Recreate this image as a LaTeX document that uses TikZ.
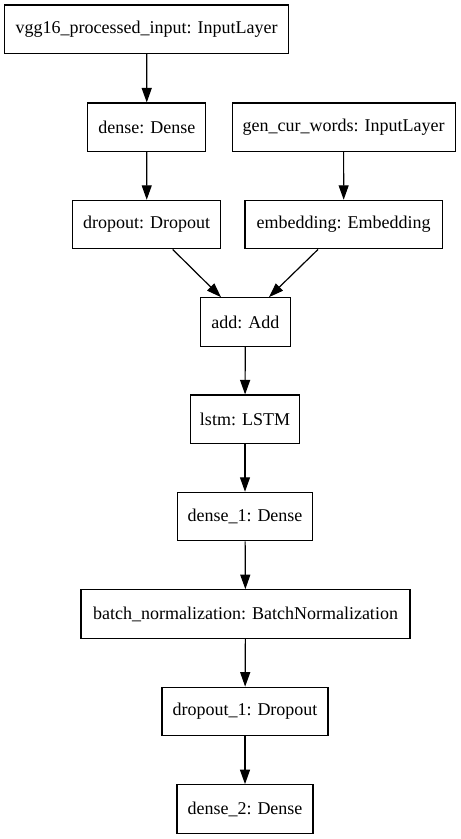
\documentclass[tikz,border=0pt]{standalone}
\usepackage{fontspec}
\setmainfont{Liberation Serif}
\usetikzlibrary{arrows.meta}
\begin{document}
\begin{tikzpicture}[x=1pt,y=-1pt,
  layer/.style={draw=black, line width=1.2pt, rectangle, minimum height=48.5pt, inner sep=0pt, font=\fontsize{18}{20}\selectfont},
  conn/.style={line width=1.2pt, -{Triangle[length=14.5pt,width=10pt]}}]
\useasboundingbox (0,0) rectangle (461,839);
\node[layer, minimum width=283.6pt] (vgg) at (146.6,29.2) {vgg16\_processed\_input: InputLayer};
\node[layer, minimum width=118pt] (dense) at (146.8,127.3) {dense: Dense};
\node[layer, minimum width=223pt] (gen) at (343.6,127.3) {gen\_cur\_words: InputLayer};
\node[layer, minimum width=148pt] (drop) at (146.7,224.6) {dropout: Dropout};
\node[layer, minimum width=197.3pt] (emb) at (343.7,224.6) {embedding: Embedding};
\node[layer, minimum width=89.6pt] (add) at (245.3,322) {add: Add};
\node[layer, minimum width=109.4pt] (lstm) at (245,419.3) {lstm: LSTM};
\node[layer, minimum width=135.4pt] (d1) at (245,516.6) {dense\_1: Dense};
\node[layer, minimum width=329pt] (bn) at (245.5,614) {batch\_normalization: BatchNormalization};
\node[layer, minimum width=166pt] (do1) at (245,711.5) {dropout\_1: Dropout};
\node[layer, minimum width=136pt] (d2) at (245,809) {dense\_2: Dense};
\draw[conn] (vgg) -- (dense);
\draw[conn] (dense) -- (drop);
\draw[conn] (gen) -- (emb);
\draw[conn] ([xshift=26pt]drop.south) -- ([xshift=-24.3pt]add.north);
\draw[conn] ([xshift=-25.7pt]emb.south) -- ([xshift=23.7pt]add.north);
\draw[conn] (add) -- (lstm);
\draw[conn] (lstm) -- (d1);
\draw[conn] (d1) -- (bn);
\draw[conn] (bn) -- (do1);
\draw[conn] (do1) -- (d2);
\end{tikzpicture}
\end{document}
